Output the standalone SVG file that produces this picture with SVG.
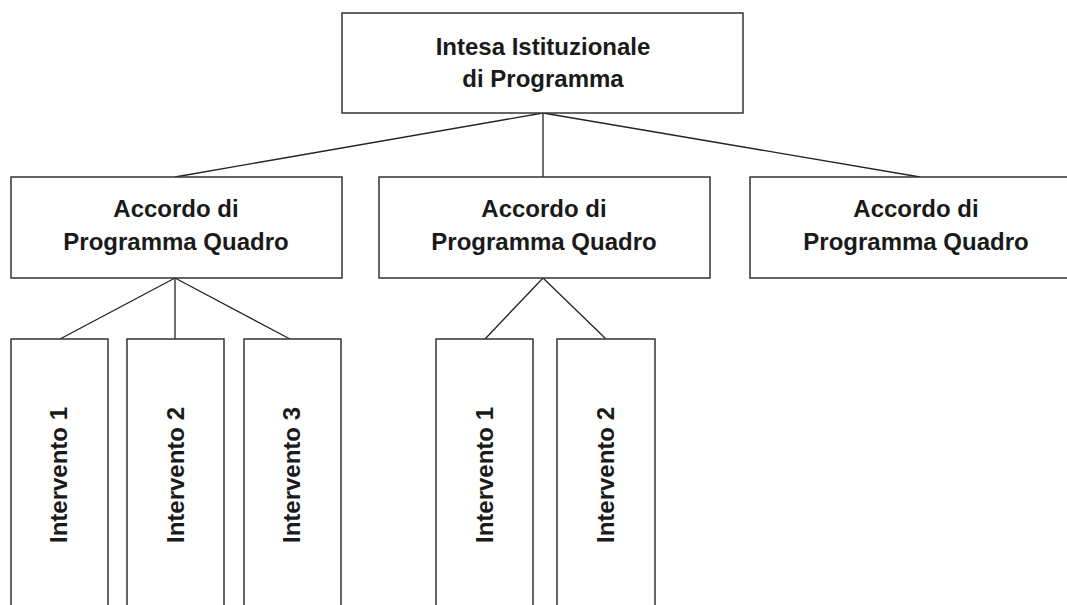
<svg xmlns="http://www.w3.org/2000/svg" width="1067" height="605" viewBox="0 0 1067 605">
<style>
.box{fill:#fff;stroke:#333;stroke-width:1.5}
.ln{stroke:#222;stroke-width:1.3;fill:none}
.t{font-family:"Liberation Sans",Arial,sans-serif;font-weight:bold;font-size:24px;fill:#1a1a1a;text-anchor:middle}
.v{font-family:"Liberation Sans",Arial,sans-serif;font-weight:bold;font-size:24px;fill:#1a1a1a;text-anchor:middle}
</style>
<rect width="1067" height="605" fill="#fff"/>
<g id="connectors">
<line class="ln" x1="543" y1="113" x2="175" y2="177"/>
<line class="ln" x1="543" y1="113" x2="543" y2="177"/>
<line class="ln" x1="543" y1="113" x2="920" y2="177"/>
<line class="ln" x1="175" y1="278" x2="60" y2="339"/>
<line class="ln" x1="175" y1="278" x2="175" y2="339"/>
<line class="ln" x1="175" y1="278" x2="290" y2="339"/>
<line class="ln" x1="543" y1="278" x2="485" y2="339"/>
<line class="ln" x1="543" y1="278" x2="606" y2="339"/>
</g>
<g id="intesa">
<rect class="box" x="342" y="13" width="401" height="100"/>
<text class="t" x="543" y="55">Intesa Istituzionale</text>
<text class="t" x="543" y="87">di Programma</text>
</g>
<g id="apq1">
<rect class="box" x="11" y="177" width="331" height="101"/>
<text class="t" x="176" y="217">Accordo di</text>
<text class="t" x="176" y="250">Programma Quadro</text>
</g>
<g id="apq2">
<rect class="box" x="379" y="177" width="331" height="101"/>
<text class="t" x="544" y="217">Accordo di</text>
<text class="t" x="544" y="250">Programma Quadro</text>
</g>
<g id="apq3">
<rect class="box" x="750" y="177" width="331" height="101"/>
<text class="t" x="916" y="217">Accordo di</text>
<text class="t" x="916" y="250">Programma Quadro</text>
</g>
<g id="int1a">
<rect class="box" x="11" y="339" width="97" height="290"/>
<text class="v" transform="translate(67,475) rotate(-90)">Intervento 1</text>
</g>
<g id="int2a">
<rect class="box" x="127" y="339" width="97" height="290"/>
<text class="v" transform="translate(184,475) rotate(-90)">Intervento 2</text>
</g>
<g id="int3a">
<rect class="box" x="244" y="339" width="97" height="290"/>
<text class="v" transform="translate(300,475) rotate(-90)">Intervento 3</text>
</g>
<g id="int1b">
<rect class="box" x="436" y="339" width="97" height="290"/>
<text class="v" transform="translate(493,475) rotate(-90)">Intervento 1</text>
</g>
<g id="int2b">
<rect class="box" x="557" y="339" width="98" height="290"/>
<text class="v" transform="translate(614,475) rotate(-90)">Intervento 2</text>
</g>
</svg>
